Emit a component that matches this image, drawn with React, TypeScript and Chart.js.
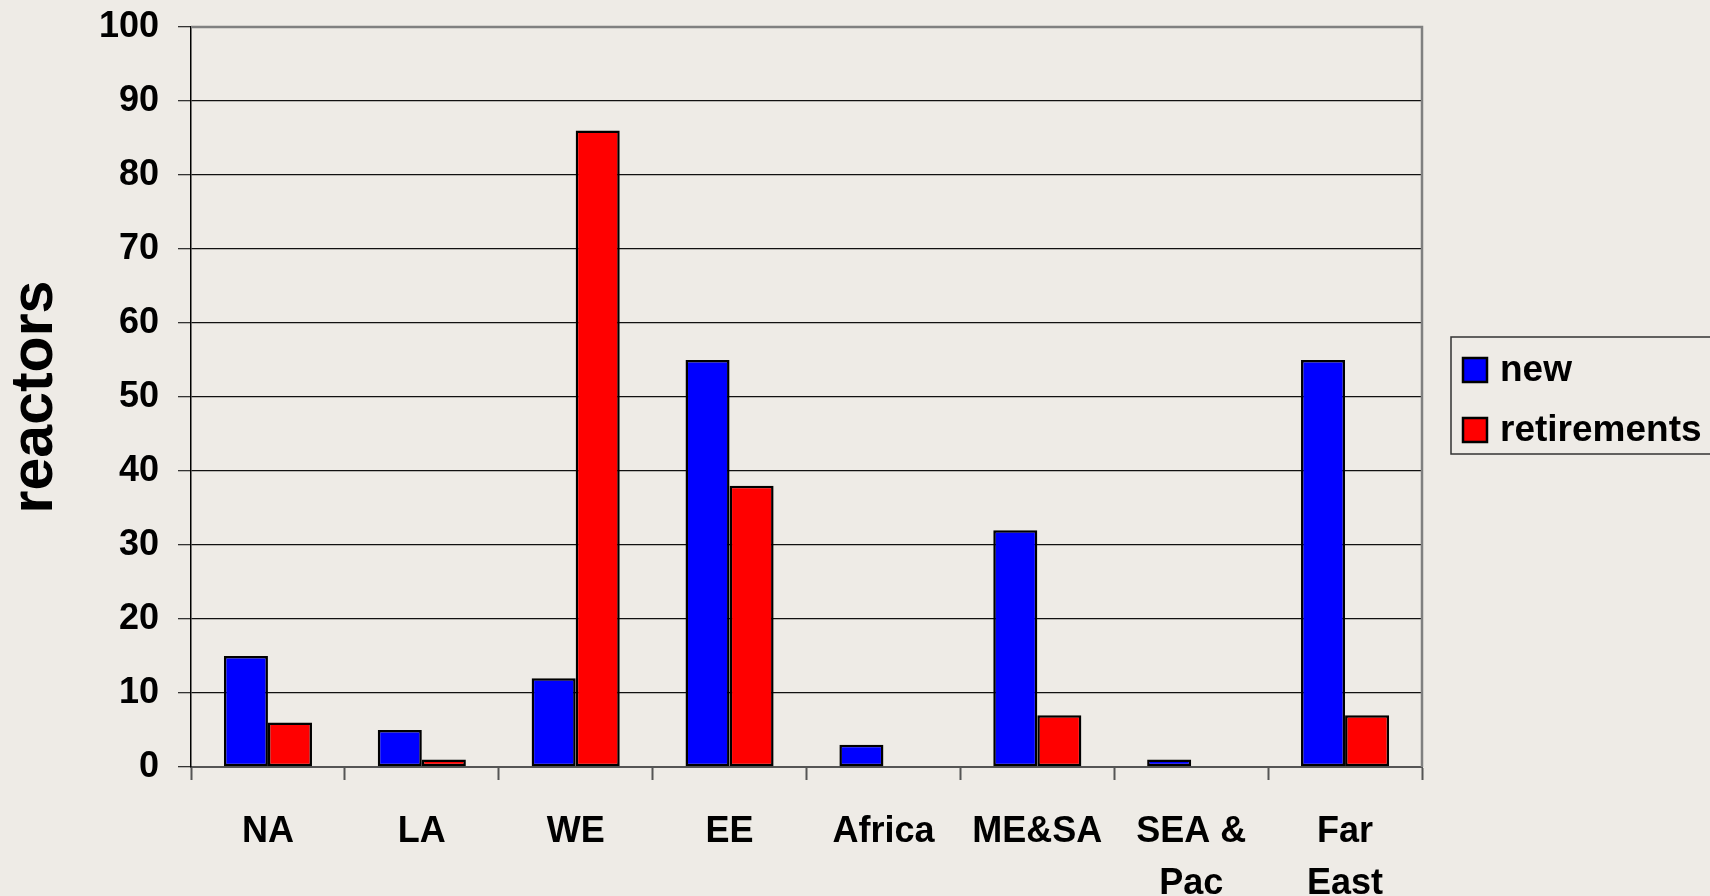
import React, { useEffect, useRef } from "react";
import { Chart, registerables } from "chart.js";

Chart.register(...registerables);

const categories: (string | string[])[] = ["NA", "LA", "WE", "EE", "Africa", "ME&SA", ["SEA &", "Pac"], ["Far", "East"]];
const newReactors = [15, 5, 12, 55, 3, 32, 1, 55];
const retirements = [6, 1, 86, 38, 0, 7, 0, 7];
const seriesNames = ["new", "retirements"];
const seriesColors = ["#0000FF", "#FF0000"];
const yAxisTitle = "reactors";
const yMin = 0;
const yMax = 100;
const yStep = 10;

const FONT = "'Liberation Sans', Arial, Helvetica, sans-serif";
const BG = "#EEEBE6";

const backgroundPlugin = {
  id: "bgFill",
  beforeDraw(chart: any) {
    const { ctx, width, height } = chart;
    ctx.save();
    ctx.fillStyle = BG;
    ctx.fillRect(0, 0, width, height);
    ctx.restore();
  },
};

const framePlugin = {
  id: "plotFrame",
  afterDatasetsDraw(chart: any) {
    const { ctx, chartArea } = chart;
    ctx.save();
    ctx.strokeStyle = "#808080";
    ctx.lineWidth = 2.5;
    ctx.beginPath();
    ctx.moveTo(chartArea.left, chartArea.top);
    ctx.lineTo(chartArea.right, chartArea.top);
    ctx.lineTo(chartArea.right, chartArea.bottom);
    ctx.stroke();
    ctx.restore();
  },
};

const legendPlugin = {
  id: "boxLegend",
  afterDraw(chart: any) {
    const { ctx, chartArea } = chart;
    const x0 = chartArea.right + 29;
    const mid = (chartArea.top + chartArea.bottom) / 2;
    const y0 = mid - 60;
    ctx.save();
    ctx.strokeStyle = "#333";
    ctx.lineWidth = 1.5;
    ctx.strokeRect(x0, y0, 400, 117);
    chart.data.datasets.forEach((ds: any, i: number) => {
      const cy = y0 + 33 + i * 60;
      ctx.fillStyle = ds.backgroundColor;
      ctx.fillRect(x0 + 12, cy - 12, 24, 24);
      ctx.strokeStyle = "#000";
      ctx.lineWidth = 2.5;
      ctx.strokeRect(x0 + 12, cy - 12, 24, 24);
      ctx.fillStyle = "#000";
      ctx.font = `bold 37px ${FONT}`;
      ctx.textBaseline = "middle";
      ctx.textAlign = "left";
      ctx.fillText(ds.label, x0 + 49, cy + 1);
    });
    ctx.restore();
  },
};

export default function App() {
  const canvasRef = useRef<HTMLCanvasElement | null>(null);

  useEffect(() => {
    document.body.style.margin = "0";
    document.body.style.background = BG;
    const canvas = canvasRef.current;
    if (!canvas) return;
    const chart = new Chart(canvas, {
      type: "bar",
      data: {
        labels: categories as any,
        datasets: [
          {
            label: seriesNames[0],
            data: newReactors,
            backgroundColor: seriesColors[0],
            borderColor: "#000",
            borderWidth: 2.5,
            borderSkipped: false,
          },
          {
            label: seriesNames[1],
            data: retirements,
            backgroundColor: seriesColors[1],
            borderColor: "#000",
            borderWidth: 2.5,
            borderSkipped: false,
          },
        ],
      },
      options: {
        responsive: false,
        animation: false,
        devicePixelRatio: 1,
        datasets: { bar: { categoryPercentage: 0.5725, barPercentage: 1.0 } },
        layout: { padding: { left: 0, top: 27, right: 288, bottom: 0 } },
        plugins: {
          legend: { display: false },
          tooltip: { enabled: false },
        },
        scales: {
          x: {
            offset: true,
            grid: {
              offset: true,
              drawOnChartArea: false,
              drawTicks: true,
              tickLength: 13,
              tickColor: "#555",
              tickWidth: 2,
            },
            border: { color: "#555", width: 2 },
            ticks: {
              color: "#000",
              padding: 26,
              maxRotation: 0,
              autoSkip: false,
              font: { family: FONT, size: 36, weight: "bold", lineHeight: 1.44 },
            },
            afterFit(scale: any) {
              scale.height = 129;
              scale.paddingLeft = 0;
              scale.paddingRight = 0;
            },
          },
          y: {
            min: yMin,
            max: yMax,
            ticks: {
              stepSize: yStep,
              color: "#000",
              padding: 19,
              font: { family: FONT, size: 36, weight: "bold" },
            },
            grid: {
              color: (c: any) => (c.tick && c.tick.value === yMax ? "#808080" : c.tick && c.tick.value === yMin ? "#555" : "#111"),
              lineWidth: 1.3,
              drawTicks: true,
              tickLength: 13,
              tickColor: "#333",
            },
            border: { color: "#000", width: 1.5 },
            title: {
              display: true,
              text: yAxisTitle,
              color: "#000",
              padding: { top: 0, bottom: 0 },
              font: { family: FONT, size: 59, weight: "bold", lineHeight: 1.2 },
            },
            afterFit(scale: any) {
              scale.width = 191;
              scale.paddingTop = 0;
              scale.paddingBottom = 0;
            },
          },
        },
      },
      plugins: [backgroundPlugin, framePlugin, legendPlugin],
    });
    return () => chart.destroy();
  }, []);

  return (
    <div style={{ width: 1710, height: 896, background: BG }}>
      <canvas ref={canvasRef} width={1710} height={896} style={{ display: "block" }} />
    </div>
  );
}
